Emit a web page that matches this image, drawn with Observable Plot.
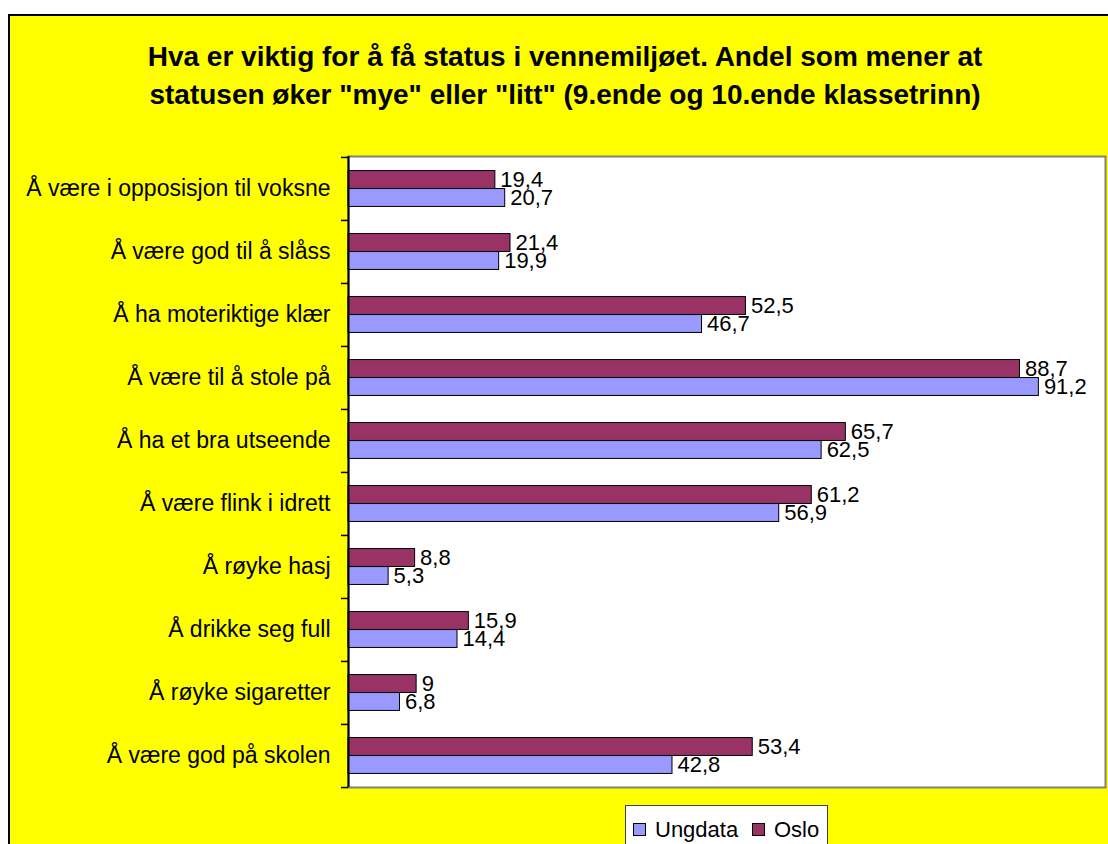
<!DOCTYPE html>
<html>
<head>
<meta charset="utf-8">
<script src="https://cdn.jsdelivr.net/npm/d3@7"></script>
<script src="https://cdn.jsdelivr.net/npm/@observablehq/plot@0.6"></script>
<style>
  html, body { margin: 0; padding: 0; background: #fff; width: 1108px; height: 844px; overflow: hidden; }
  body { position: relative; font-family: "Liberation Sans", Arial, sans-serif; }
  #panel { position: absolute; left: 8px; top: 14px; width: 1100px; height: 830px; background: #ffff00; }
  #edgeTop { position: absolute; left: 8px; top: 14px; width: 1100px; height: 2px; background: #000; }
  #edgeLeft { position: absolute; left: 8px; top: 14px; width: 2px; height: 830px; background: #000; }
  #title { position: absolute; left: 565px; top: 38px; transform: translateX(-50%); white-space: nowrap; text-align: center; font-weight: bold; font-size: 28px; line-height: 37.5px; color: #000; }
  #chart { position: absolute; left: 0; top: 140px; width: 1108px; height: 660px; }
  #legend { position: absolute; left: 625px; top: 805px; width: 203px; height: 50px; background: #fff; border: 1px solid #404040; box-sizing: border-box; font-size: 22px; }
  #legend .item { position: absolute; top: 11px; display: flex; align-items: center; line-height: 25px; }
  #legend .sw { width: 13px; height: 13px; border: 1px solid #000; box-sizing: border-box; margin-right: 9px; }
</style>
</head>
<body>
<div id="panel"></div>
<div id="edgeTop"></div>
<div id="edgeLeft"></div>
<div id="title">Hva er viktig for å få status i vennemiljøet. Andel som mener at<br>statusen øker "mye" eller "litt" (9.ende og 10.ende klassetrinn)</div>
<div id="chart"></div>
<div id="legend"></div>
<script>
const categories = [
  "Å være i opposisjon til voksne",
  "Å være god til å slåss",
  "Å ha moteriktige klær",
  "Å være til å stole på",
  "Å ha et bra utseende",
  "Å være flink i idrett",
  "Å røyke hasj",
  "Å drikke seg full",
  "Å røyke sigaretter",
  "Å være god på skolen"
];
const oslo    = [19.4, 21.4, 52.5, 88.7, 65.7, 61.2, 8.8, 15.9, 9, 53.4];
const ungdata = [20.7, 19.9, 46.7, 91.2, 62.5, 56.9, 5.3, 14.4, 6.8, 42.8];
const seriesNames = ["Ungdata", "Oslo"];
const seriesColors = ["#9999ff", "#993366"];

const osloRows = categories.map((c, i) => ({cat: c, value: oslo[i]}));
const ungRows = categories.map((c, i) => ({cat: c, value: ungdata[i]}));
const fmt = v => String(v).replace(".", ",");

const H = 660, mt = 16, mb = 13;
const band = (H - mt - mb) / categories.length;
const barH = 18;
const outer = (band - 2 * barH) / 2;

const chart = Plot.plot({
  width: 1108,
  height: H,
  marginLeft: 348,
  marginRight: 3,
  marginTop: mt,
  marginBottom: mb,
  style: {background: "transparent", fontFamily: "'Liberation Sans', Arial, sans-serif", fontSize: "22px", color: "#000"},
  x: {domain: [0, 100], axis: null},
  y: {domain: categories, padding: 0, axis: null},
  marks: [
    Plot.frame({fill: "#fff", stroke: "#808080", strokeWidth: 2}),
    Plot.barX(osloRows, {x: "value", y: "cat", fill: seriesColors[1], stroke: "#000", strokeWidth: 1, insetTop: outer, insetBottom: band - outer - barH}),
    Plot.barX(ungRows, {x: "value", y: "cat", fill: seriesColors[0], stroke: "#000", strokeWidth: 1, insetTop: outer + barH, insetBottom: outer}),
    Plot.ruleX([0], {stroke: "#000", strokeWidth: 2}),
    Plot.text(osloRows, {x: "value", y: "cat", text: d => fmt(d.value), dy: -barH / 2, dx: 5, textAnchor: "start", fontSize: 22, fill: "#000"}),
    Plot.text(ungRows, {x: "value", y: "cat", text: d => fmt(d.value), dy: barH / 2, dx: 5, textAnchor: "start", fontSize: 22, fill: "#000"}),
    Plot.axisY({tickSize: 0, tickPadding: 18, fontSize: 23, fill: "#000", label: null}),
    Plot.axisY({text: null, tickSize: 7, dy: -band / 2, stroke: "#000", strokeWidth: 1.5, label: null}),
    Plot.axisY([categories[categories.length - 1]], {text: null, tickSize: 7, dy: band / 2, stroke: "#000", strokeWidth: 1.5, label: null})
  ]
});
document.getElementById("chart").appendChild(chart);

const legend = document.getElementById("legend");
const lx = [7, 126];
seriesNames.forEach((name, i) => {
  const item = document.createElement("div");
  item.className = "item";
  item.style.left = lx[i] + "px";
  const sw = document.createElement("div");
  sw.className = "sw";
  sw.style.background = seriesColors[i];
  const label = document.createElement("span");
  label.textContent = name;
  item.appendChild(sw);
  item.appendChild(label);
  legend.appendChild(item);
});
</script>
</body>
</html>
